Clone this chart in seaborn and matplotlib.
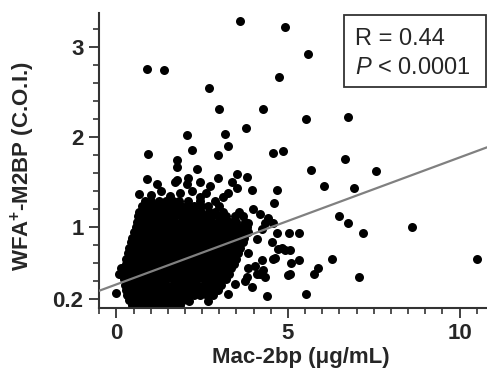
# Scatter of WFA+-M2BP against Mac-2bp with a linear fit line

import numpy as np
import pandas as pd
import matplotlib
matplotlib.use('Agg')
from matplotlib import pyplot as plt
from matplotlib.ticker import MultipleLocator
from matplotlib.patches import Rectangle
import seaborn as sns

# Data

# dense core: one list of x values for each y level
core_y = [0.13, 0.19, 0.25, 0.30, 0.36, 0.42, 0.48, 0.54, 0.59, 0.65, 0.71,
          0.77, 0.83, 0.88, 0.94, 1.00, 1.06, 1.12, 1.17, 1.23, 1.29]
core_x = [
    [0.45, 0.63, 0.81, 0.99, 1.17, 1.35, 1.53, 1.71, 1.86],
    [0.36, 0.54, 0.72, 0.90, 1.08, 1.26, 1.44, 1.62, 1.80, 1.95],
    [0.30, 0.47, 0.65, 0.83, 1.01, 1.19, 1.37, 1.55, 1.73, 1.91, 2.09, 2.27, 2.45, 2.63, 2.82],
    [0.28, 0.45, 0.62, 0.80, 0.98, 1.16, 1.34, 1.52, 1.70, 1.88, 2.06, 2.24, 2.42, 2.60, 2.78, 2.95],
    [0.25, 0.40, 0.57, 0.74, 0.92, 1.10, 1.28, 1.46, 1.64, 1.82, 2.00, 2.18, 2.36, 2.54, 2.72, 2.90, 3.05],
    [0.22, 0.39, 0.56, 0.74, 0.92, 1.10, 1.28, 1.46, 1.64, 1.82, 2.00, 2.18, 2.36, 2.54, 2.72, 2.90, 3.06, 3.20],
    [0.23, 0.40, 0.58, 0.76, 0.94, 1.12, 1.30, 1.48, 1.66, 1.84, 2.02, 2.20, 2.38, 2.56, 2.74, 2.92, 3.10, 3.28],
    [0.26, 0.44, 0.62, 0.80, 0.98, 1.16, 1.34, 1.52, 1.70, 1.88, 2.06, 2.24, 2.42, 2.60, 2.78, 2.96, 3.14, 3.33],
    [0.27, 0.45, 0.63, 0.81, 0.99, 1.17, 1.35, 1.53, 1.71, 1.89, 2.07, 2.25, 2.43, 2.61, 2.79, 2.97, 3.15, 3.33, 3.42],
    [0.29, 0.46, 0.64, 0.82, 1.00, 1.18, 1.36, 1.54, 1.72, 1.90, 2.08, 2.26, 2.44, 2.62, 2.80, 2.98, 3.16, 3.34, 3.50],
    [0.33, 0.51, 0.69, 0.87, 1.05, 1.23, 1.41, 1.59, 1.77, 1.95, 2.13, 2.31, 2.49, 2.67, 2.85, 3.03, 3.21, 3.39, 3.55],
    [0.38, 0.55, 0.73, 0.91, 1.09, 1.27, 1.45, 1.63, 1.81, 1.99, 2.17, 2.35, 2.53, 2.71, 2.89, 3.07, 3.25, 3.43, 3.60],
    [0.43, 0.61, 0.79, 0.97, 1.15, 1.33, 1.51, 1.69, 1.87, 2.05, 2.23, 2.41, 2.59, 2.77, 2.95, 3.13, 3.31, 3.49, 3.68],
    [0.47, 0.64, 0.82, 1.00, 1.18, 1.36, 1.54, 1.72, 1.90, 2.08, 2.26, 2.44, 2.62, 2.80, 2.98, 3.16, 3.34, 3.52, 3.72],
    [0.52, 0.70, 0.88, 1.06, 1.24, 1.42, 1.60, 1.78, 1.96, 2.14, 2.32, 2.50, 2.68, 2.86, 3.04, 3.22, 3.40, 3.58, 3.76, 3.85],
    [0.57, 0.74, 0.92, 1.10, 1.28, 1.46, 1.64, 1.82, 2.00, 2.18, 2.36, 2.54, 2.72, 2.90, 3.08, 3.26, 3.44, 3.62, 3.80],
    [0.61, 0.79, 0.97, 1.15, 1.33, 1.51, 1.69, 1.87, 2.05, 2.23, 2.41, 2.59, 2.77, 2.95, 3.13, 3.31, 3.49, 3.74],
    [0.63, 0.82, 1.00, 1.18, 1.36, 1.54, 1.72, 1.90, 2.08, 2.26, 2.44, 2.62, 2.80, 2.98, 3.20, 3.45, 3.68],
    [0.66, 0.85, 1.03, 1.21, 1.39, 1.57, 1.75, 1.95, 2.12, 2.30, 2.48, 2.70, 2.88, 3.10, 3.58],
    [0.75, 0.93, 1.12, 1.30, 1.50, 1.68, 1.88, 2.06, 2.25, 2.46, 2.66, 2.98],
    [0.83, 1.02, 1.24, 1.44, 1.65, 1.83, 2.10, 2.43],
]

# scattered points outside the core
spread_x = [0.88, 1.38, 3.59, 2.69, 2.98, 3.77, 2.05, 3.16, 0.91, 2.20, 3.24, 2.95, 1.76, 1.76, 2.34,
            0.88, 1.17, 1.70, 2.08, 2.43, 2.72, 2.95, 3.51, 3.80, 3.36, 4.91, 5.58, 4.73, 4.27, 5.52,
            6.74, 4.56, 4.85, 6.65, 5.66, 7.56, 6.04, 6.92, 3.94, 4.67, 4.59, 6.48, 6.74, 8.61, 7.18,
            5.02, 5.31, 6.28, 10.51, 5.05, 5.31, 4.99, 5.87, 5.76, 7.06, 5.52, 4.38, 5.08, 5.05,
            4.18, 4.33, 4.56, 4.53, 4.82, 4.56, 4.27, 3.80, 4.03, 4.18, 3.65, 3.83, 3.74, 4.41, 4.67,
            4.24, 4.09, 4.70, 4.91, 4.61, 4.24, 4.09, 4.33, 3.83, 3.94, 3.45, 3.24, 2.67,
            3.51, 3.24, 3.10, 2.87, 2.43, 0.65, 1.76, 2.05, 1.00, 1.30, 1.55, 1.85, 2.20, 2.60, 3.98, 3.85,
            0.13, 0.07, -0.02, 2.11]
spread_y = [2.76, 2.74, 3.29, 2.54, 2.31, 2.10, 2.02, 2.03, 1.81, 1.86, 1.90, 1.80, 1.74, 1.67, 1.65,
            1.53, 1.48, 1.50, 1.55, 1.50, 1.46, 1.55, 1.59, 1.56, 1.50, 3.22, 2.92, 2.67, 2.31, 2.20,
            2.22, 1.82, 1.84, 1.76, 1.63, 1.62, 1.46, 1.43, 1.41, 1.41, 1.27, 1.12, 1.05, 1.00, 0.93,
            0.93, 0.93, 0.65, 0.64, 0.74, 0.63, 0.47, 0.55, 0.48, 0.44, 0.26, 0.23, 0.60, 0.48,
            1.15, 1.05, 1.04, 0.83, 0.77, 0.65, 0.52, 0.44, 0.57, 0.48, 0.85, 0.71, 0.40, 1.10, 0.93,
            0.98, 0.87, 0.76, 0.74, 0.66, 0.63, 0.48, 0.44, 0.54, 0.33, 0.37, 0.26, 0.18,
            1.43, 1.38, 1.33, 1.29, 1.33, 1.37, 1.52, 1.48, 1.36, 1.40, 1.35, 1.38, 1.40, 1.38, 1.20, 1.05,
            0.54, 0.48, 0.27, 0.18]

fit_intercept = 0.363
fit_slope = 0.141
stat_r = 'R = 0.44'
stat_p = r'$P$ < 0.0001'

# Build one table of points

xs = [x for row in core_x for x in row] + spread_x
ys = [y for y, row in zip(core_y, core_x) for x in row] + spread_y
df = pd.DataFrame({'mac2bp': xs, 'wfa': ys})

# Plot

sns.set_style('ticks')
plt.rcParams['font.family'] = ['Liberation Sans', 'DejaVu Sans']
plt.rcParams['mathtext.fontset'] = 'custom'
plt.rcParams['mathtext.rm'] = 'Liberation Sans'
plt.rcParams['mathtext.it'] = 'Liberation Sans:italic'
plt.rcParams['mathtext.bf'] = 'Liberation Sans:bold'

fig = plt.figure(figsize = (4.87, 3.77), dpi = 100)
ax = fig.add_axes([0.203, 0.184, 0.797, 0.782])

sns.scatterplot(data = df, x = 'mac2bp', y = 'wfa', color = 'black', s = 42,
                linewidth = 0, legend = False, ax = ax, zorder = 2)
ax.axline((0, fit_intercept), slope = fit_slope, color = '#808080', lw = 1.6, zorder = 3)

ax.set_xlim(-0.51, 10.8)
ax.set_ylim(0.105, 3.38)
sns.despine(ax = ax)
for s in ['left', 'bottom']:
    ax.spines[s].set_linewidth(1.5)
    ax.spines[s].set_color('#333333')

ax.set_xticks([0, 5, 10])
ax.xaxis.set_minor_locator(MultipleLocator(0.5))
ax.set_yticks([0.2, 1, 2, 3], labels = ['0.2', '1', '2', '3'])
ax.yaxis.set_minor_locator(MultipleLocator(0.2))
ax.tick_params(which = 'major', length = 7, width = 1.3, color = '#333333', labelsize = 16)
ax.tick_params(which = 'minor', length = 4, width = 1.2, color = '#333333')
ax.tick_params(axis = 'x', pad = 4)
ax.tick_params(axis = 'y', pad = 4)
for lbl in ax.get_xticklabels() + ax.get_yticklabels():
    lbl.set_fontweight('bold')

ax.set_xlabel('Mac-2bp (μg/mL)', fontsize = 16, fontweight = 'bold')
ax.set_ylabel(r'WFA$^{\mathbf{+}}$-M2BP (C.O.I.)', fontsize = 16, fontweight = 'bold')
ax.xaxis.set_label_coords(0.52, -0.135)
ax.yaxis.set_label_coords(-0.16, 0.48)

ax.add_patch(Rectangle((0.631, 0.748), 0.366, 0.244, transform = ax.transAxes,
                       fill = False, lw = 1.3, ec = '#333333', clip_on = False, zorder = 4))
ax.text(0.66, 0.89, stat_r, transform = ax.transAxes, fontsize = 17, va = 'baseline')
ax.text(0.66, 0.792, stat_p, transform = ax.transAxes, fontsize = 17, va = 'baseline')

fig.savefig('out.png', dpi = 100)
